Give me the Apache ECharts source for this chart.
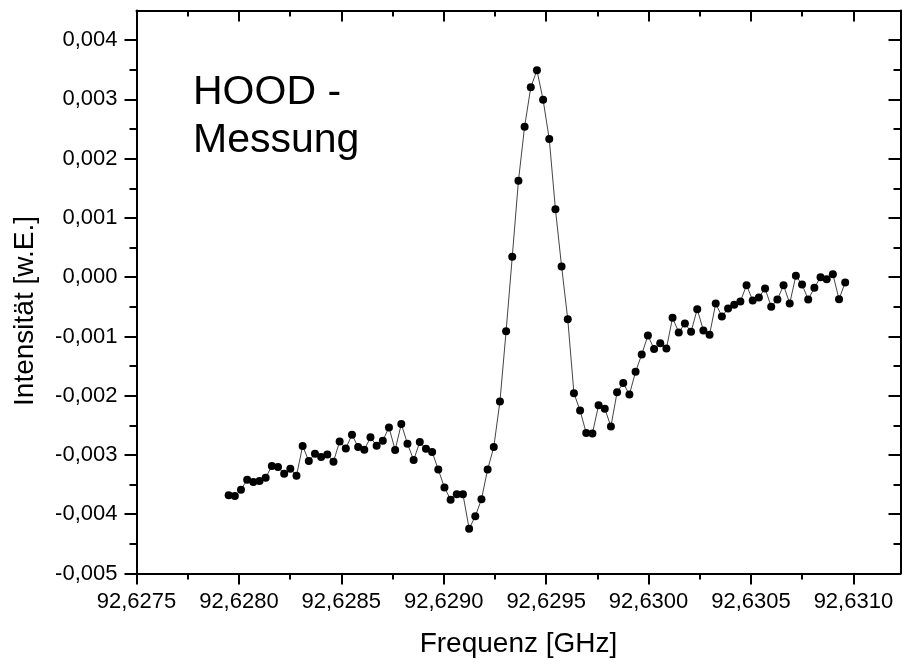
<!DOCTYPE html>
<html>
<head>
<meta charset="utf-8">
<script src="https://cdn.jsdelivr.net/npm/echarts@6/dist/echarts.min.js"></script>
<style>
html,body{margin:0;padding:0;background:#fff;}
#chart{width:902px;height:664px;}
</style>
</head>
<body>
<div id="chart"></div>
<script>
// Frequency sweep (GHz)
const freq = [
  92.6279500, 92.6279801, 92.6280102, 92.6280403, 92.6280704, 92.6281005, 92.6281306, 92.6281607, 92.6281908, 92.6282209,
  92.6282510, 92.6282811, 92.6283112, 92.6283413, 92.6283714, 92.6284015, 92.6284316, 92.6284617, 92.6284918, 92.6285219,
  92.6285520, 92.6285821, 92.6286122, 92.6286423, 92.6286724, 92.6287025, 92.6287326, 92.6287627, 92.6287928, 92.6288229,
  92.6288530, 92.6288831, 92.6289132, 92.6289433, 92.6289734, 92.6290035, 92.6290336, 92.6290637, 92.6290938, 92.6291239,
  92.6291540, 92.6291841, 92.6292142, 92.6292443, 92.6292744, 92.6293045, 92.6293346, 92.6293647, 92.6293948, 92.6294249,
  92.6294550, 92.6294851, 92.6295152, 92.6295453, 92.6295754, 92.6296055, 92.6296356, 92.6296657, 92.6296958, 92.6297259,
  92.6297560, 92.6297861, 92.6298162, 92.6298463, 92.6298764, 92.6299065, 92.6299366, 92.6299667, 92.6299968, 92.6300269,
  92.6300570, 92.6300871, 92.6301172, 92.6301473, 92.6301774, 92.6302075, 92.6302376, 92.6302677, 92.6302978, 92.6303279,
  92.6303580, 92.6303881, 92.6304182, 92.6304483, 92.6304784, 92.6305085, 92.6305386, 92.6305687, 92.6305988, 92.6306289,
  92.6306590, 92.6306891, 92.6307192, 92.6307493, 92.6307794, 92.6308095, 92.6308396, 92.6308697, 92.6308998, 92.6309299,
  92.6309600
];

// Intensity (arbitrary units)
const intensity = [
  -0.003681, -0.003693, -0.003585, -0.003417, -0.003457, -0.003440, -0.003383, -0.003187, -0.003204, -0.003315,
  -0.003231, -0.003349, -0.002850, -0.003103, -0.002978, -0.003035, -0.002990, -0.003113, -0.002771, -0.002889,
  -0.002658, -0.002867, -0.002911, -0.002703, -0.002843, -0.002759, -0.002535, -0.002914, -0.002479, -0.002809,
  -0.003086, -0.002782, -0.002894, -0.002948, -0.003246, -0.003550, -0.003754, -0.003664, -0.003664, -0.004243,
  -0.004035, -0.003749, -0.003246, -0.002867, -0.002096, -0.000912, 0.000346, 0.001627, 0.002538, 0.003204,
  0.003491, 0.002993, 0.002331, 0.001147, 0.000180, -0.000708, -0.001958, -0.002250, -0.002631, -0.002636,
  -0.002160, -0.002218, -0.002519, -0.001943, -0.001786, -0.001981, -0.001595, -0.001304, -0.000983, -0.001211,
  -0.001113, -0.001202, -0.000685, -0.000933, -0.000781, -0.000921, -0.000540, -0.000899, -0.000971, -0.000444,
  -0.000663, -0.000528, -0.000465, -0.000410, -0.000135, -0.000393, -0.000342, -0.000191, -0.000499, -0.000376,
  -0.000135, -0.000444, 0.000024, -0.000123, -0.000376, -0.000179, 0.000000, -0.000034, 0.000051, -0.000371,
  -0.000089
];

// Tick positions
const xMajorTicks = [92.6275, 92.6280, 92.6285, 92.6290, 92.6295, 92.6300, 92.6305, 92.6310];
const xMinorTicks = [92.62775, 92.62825, 92.62875, 92.62925, 92.62975, 92.63025, 92.63075];
const yMajorTicks = [-0.005, -0.004, -0.003, -0.002, -0.001, 0, 0.001, 0.002, 0.003, 0.004];
const yMinorTicks = [-0.0045, -0.0035, -0.0025, -0.0015, -0.0005, 0.0005, 0.0015, 0.0025, 0.0035];

const X_MIN = 92.6275, X_MAX = 92.63123;
const Y_MIN = -0.005, Y_MAX = 0.0045;

const FONT = '"Liberation Sans", Arial, sans-serif';
const chart = echarts.init(document.getElementById('chart'), null, {renderer: 'canvas'});

function xAx(position, ticks, len, inside, withLine, extra) {
  return Object.assign({
    type: 'value', position: position, min: X_MIN, max: X_MAX,
    axisLine: {show: withLine, onZero: false, lineStyle: {color: '#000', width: 2}},
    axisTick: {show: true, inside: inside, length: len, customValues: ticks, lineStyle: {color: '#000', width: 2}},
    axisLabel: {show: false},
    splitLine: {show: false}
  }, extra || {});
}
function yAx(position, ticks, len, inside, withLine, extra) {
  return Object.assign({
    type: 'value', position: position, min: Y_MIN, max: Y_MAX,
    axisLine: {show: withLine, onZero: false, lineStyle: {color: '#000', width: 2}},
    axisTick: {show: true, inside: inside, length: len, customValues: ticks, lineStyle: {color: '#000', width: 2}},
    axisLabel: {show: false},
    splitLine: {show: false}
  }, extra || {});
}

const option = {
  animation: false,
  backgroundColor: '#fff',
  grid: {left: 136.5, right: 1.5, top: 10.5, bottom: 90.5, containLabel: false},
  xAxis: [
    xAx('bottom', xMajorTicks, 11, false, true, {
      name: 'Frequenz [GHz]', nameLocation: 'middle', nameGap: 57,
      nameTextStyle: {fontFamily: FONT, fontSize: 28, color: '#000'},
      axisLabel: {show: true, customValues: xMajorTicks, margin: 17, color: '#000', fontFamily: FONT, fontSize: 22,
        formatter: v => v.toFixed(4).replace('.', ',')}
    }),
    xAx('bottom', xMinorTicks, 6, false, false),
    xAx('top', xMajorTicks, 11, true, true),
    xAx('top', xMinorTicks, 6, true, false)
  ],
  yAxis: [
    yAx('left', yMajorTicks, 12, false, true, {
      name: 'Intensität [w.E.]', nameLocation: 'middle', nameGap: 97,
      nameTextStyle: {fontFamily: FONT, fontSize: 28, color: '#000', padding: [0, 38, 0, 0]},
      axisLabel: {show: true, customValues: yMajorTicks, margin: 19, color: '#000', fontFamily: FONT, fontSize: 22,
        formatter: v => v.toFixed(3).replace('.', ',')}
    }),
    yAx('left', yMinorTicks, 7, false, false),
    yAx('right', yMajorTicks, 12, true, true),
    yAx('right', yMinorTicks, 7, true, false)
  ],
  graphic: [
    {type: 'text', left: 193, top: 72, style: {text: 'HOOD -', font: '41px ' + FONT, fill: '#000'}},
    {type: 'text', left: 193, top: 120, style: {text: 'Messung', font: '41px ' + FONT, fill: '#000'}}
  ],
  series: [{
    type: 'line',
    xAxisIndex: 0, yAxisIndex: 0,
    data: freq.map((f, i) => [f, intensity[i]]),
    symbol: 'circle', symbolSize: 8,
    showAllSymbol: true,
    itemStyle: {color: '#000'},
    lineStyle: {color: '#444', width: 1}
  }]
};
chart.setOption(option);
</script>
</body>
</html>
